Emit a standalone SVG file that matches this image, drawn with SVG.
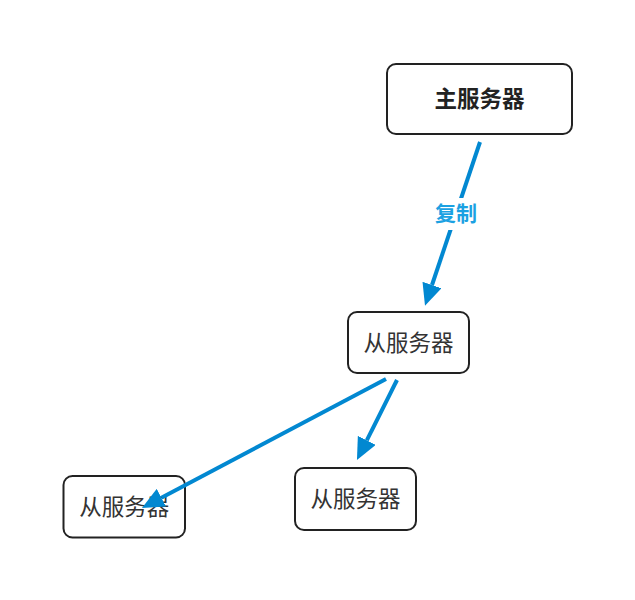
<svg xmlns="http://www.w3.org/2000/svg" width="635" height="600" viewBox="0 0 635 600">
<defs>
<style>
.box{fill:#fff;stroke:#222;stroke-width:2}
.t{font-family:"Noto Sans CJK SC","Noto Sans",sans-serif;font-size:22.5px;fill:#333;text-anchor:middle;dominant-baseline:central}
.b{font-weight:bold;fill:#222}
.e{stroke:#0288d1;stroke-width:4;fill:none}
.lbl{font-family:"Noto Sans CJK SC","Noto Sans",sans-serif;font-size:21px;font-weight:bold;fill:#1ba1e2;text-anchor:middle;dominant-baseline:central}
</style>
<marker id="ah" markerUnits="userSpaceOnUse" markerWidth="22" markerHeight="20" viewBox="0 0 22 20" refX="0" refY="10" orient="auto">
<path d="M0,0 L22,10 L0,20 z" fill="#0288d1"/>
</marker>
</defs>
<rect width="635" height="600" fill="#fff"/>
<g id="master"><rect class="box" x="387" y="64" width="185" height="70" rx="9"/><text class="t b" x="479.5" y="97">主服务器</text></g>
<g id="slave1"><rect class="box" x="348" y="312" width="121" height="61" rx="9"/><text class="t" x="408.5" y="341">从服务器</text></g>
<g id="slave3"><rect class="box" x="295" y="468" width="121" height="62" rx="9"/><text class="t" x="355.5" y="497">从服务器</text></g>
<g id="slave2"><rect class="box" x="63.5" y="476" width="121.5" height="61.5" rx="9"/><text class="t" x="124.25" y="505">从服务器</text></g>
<g id="edges">
<line class="e" x1="480" y1="142" x2="432" y2="285" marker-end="url(#ah)"/>
<rect x="429" y="198" width="54" height="32" fill="#fff"/>
<text class="lbl" x="456" y="212">复制</text>
<line class="e" x1="386" y1="379" x2="161.4" y2="497.7" marker-end="url(#ah)"/>
<line class="e" x1="397" y1="380" x2="366.8" y2="440.3" marker-end="url(#ah)"/>
</g>
</svg>
